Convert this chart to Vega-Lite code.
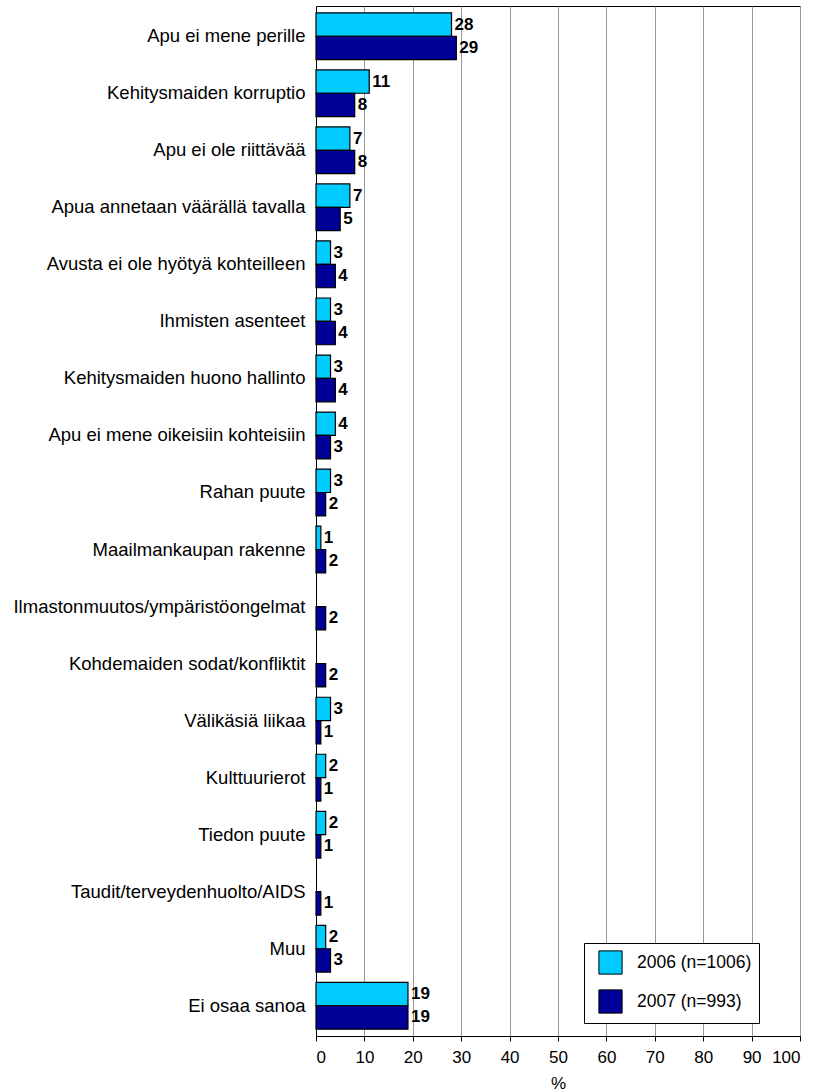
{
  "$schema": "https://vega.github.io/schema/vega-lite/v6.json",
  "autosize": "none",
  "width": 484,
  "height": 1030,
  "padding": {"left": 316, "top": 6, "right": 23, "bottom": 56},
  "background": "white",
  "config": {
    "font": "Liberation Sans",
    "view": {"stroke": "black", "strokeWidth": 1},
    "axis": {"labelColor": "black", "titleColor": "black", "domainColor": "black", "tickColor": "black"}
  },
  "data": {
    "values": [
      {"cat": "Apu ei mene perille", "year": "2006 (n=1006)", "v": 28},
      {"cat": "Apu ei mene perille", "year": "2007 (n=993)", "v": 29},
      {"cat": "Kehitysmaiden korruptio", "year": "2006 (n=1006)", "v": 11},
      {"cat": "Kehitysmaiden korruptio", "year": "2007 (n=993)", "v": 8},
      {"cat": "Apu ei ole riittävää", "year": "2006 (n=1006)", "v": 7},
      {"cat": "Apu ei ole riittävää", "year": "2007 (n=993)", "v": 8},
      {"cat": "Apua annetaan väärällä tavalla", "year": "2006 (n=1006)", "v": 7},
      {"cat": "Apua annetaan väärällä tavalla", "year": "2007 (n=993)", "v": 5},
      {"cat": "Avusta ei ole hyötyä kohteilleen", "year": "2006 (n=1006)", "v": 3},
      {"cat": "Avusta ei ole hyötyä kohteilleen", "year": "2007 (n=993)", "v": 4},
      {"cat": "Ihmisten asenteet", "year": "2006 (n=1006)", "v": 3},
      {"cat": "Ihmisten asenteet", "year": "2007 (n=993)", "v": 4},
      {"cat": "Kehitysmaiden huono hallinto", "year": "2006 (n=1006)", "v": 3},
      {"cat": "Kehitysmaiden huono hallinto", "year": "2007 (n=993)", "v": 4},
      {"cat": "Apu ei mene oikeisiin kohteisiin", "year": "2006 (n=1006)", "v": 4},
      {"cat": "Apu ei mene oikeisiin kohteisiin", "year": "2007 (n=993)", "v": 3},
      {"cat": "Rahan puute", "year": "2006 (n=1006)", "v": 3},
      {"cat": "Rahan puute", "year": "2007 (n=993)", "v": 2},
      {"cat": "Maailmankaupan rakenne", "year": "2006 (n=1006)", "v": 1},
      {"cat": "Maailmankaupan rakenne", "year": "2007 (n=993)", "v": 2},
      {"cat": "Ilmastonmuutos/ympäristöongelmat", "year": "2007 (n=993)", "v": 2},
      {"cat": "Kohdemaiden sodat/konfliktit", "year": "2007 (n=993)", "v": 2},
      {"cat": "Välikäsiä liikaa", "year": "2006 (n=1006)", "v": 3},
      {"cat": "Välikäsiä liikaa", "year": "2007 (n=993)", "v": 1},
      {"cat": "Kulttuurierot", "year": "2006 (n=1006)", "v": 2},
      {"cat": "Kulttuurierot", "year": "2007 (n=993)", "v": 1},
      {"cat": "Tiedon puute", "year": "2006 (n=1006)", "v": 2},
      {"cat": "Tiedon puute", "year": "2007 (n=993)", "v": 1},
      {"cat": "Taudit/terveydenhuolto/AIDS", "year": "2007 (n=993)", "v": 1},
      {"cat": "Muu", "year": "2006 (n=1006)", "v": 2},
      {"cat": "Muu", "year": "2007 (n=993)", "v": 3},
      {"cat": "Ei osaa sanoa", "year": "2006 (n=1006)", "v": 19},
      {"cat": "Ei osaa sanoa", "year": "2007 (n=993)", "v": 19}
    ]
  },
  "encoding": {
    "y": {
      "field": "cat", "type": "nominal", "sort": null,
      "scale": {"paddingInner": 0.18, "paddingOuter": 0.12},
      "axis": {"title": null, "ticks": false, "labelFontSize": 18.5, "labelPadding": 11, "labelLimit": 400, "domain": true}
    },
    "yOffset": {
      "field": "year", "type": "nominal",
      "scale": {"domain": ["2006 (n=1006)", "2007 (n=993)"], "paddingInner": 0, "paddingOuter": 0}
    },
    "x": {
      "field": "v", "type": "quantitative",
      "scale": {"domain": [0, 100], "nice": false},
      "axis": {"title": "%", "titleFontSize": 17, "titleFontWeight": "normal", "titlePadding": 10, "labelFontSize": 17, "labelPadding": 8, "labelOverlap": false, "values": [0,10,20,30,40,50,60,70,80,90,100], "tickSize": 5, "grid": true, "gridColor": "#999999", "gridWidth": 1}
    }
  },
  "layer": [
    {
      "mark": {"type": "bar", "stroke": "black", "strokeWidth": 1.2},
      "encoding": {
        "color": {
          "field": "year", "type": "nominal",
          "scale": {"domain": ["2006 (n=1006)", "2007 (n=993)"], "range": ["#00CCFF", "#000099"]},
          "legend": {
            "title": null, "orient": "none", "legendX": 268, "legendY": 937,
            "symbolType": "square", "symbolSize": 540, "symbolStrokeColor": "black", "symbolStrokeWidth": 1,
            "symbolOffset": 7,
            "labelFontSize": 17.5, "labelColor": "black", "labelOffset": 14, "rowPadding": 10,
            "padding": 7, "strokeColor": "black", "fillColor": "white", "direction": "vertical"
          }
        }
      }
    },
    {
      "mark": {"type": "text", "align": "left", "baseline": "middle", "dx": 3, "fontSize": 17, "fontWeight": "bold", "color": "black"},
      "encoding": {"text": {"field": "v", "type": "quantitative"}}
    }
  ]
}
